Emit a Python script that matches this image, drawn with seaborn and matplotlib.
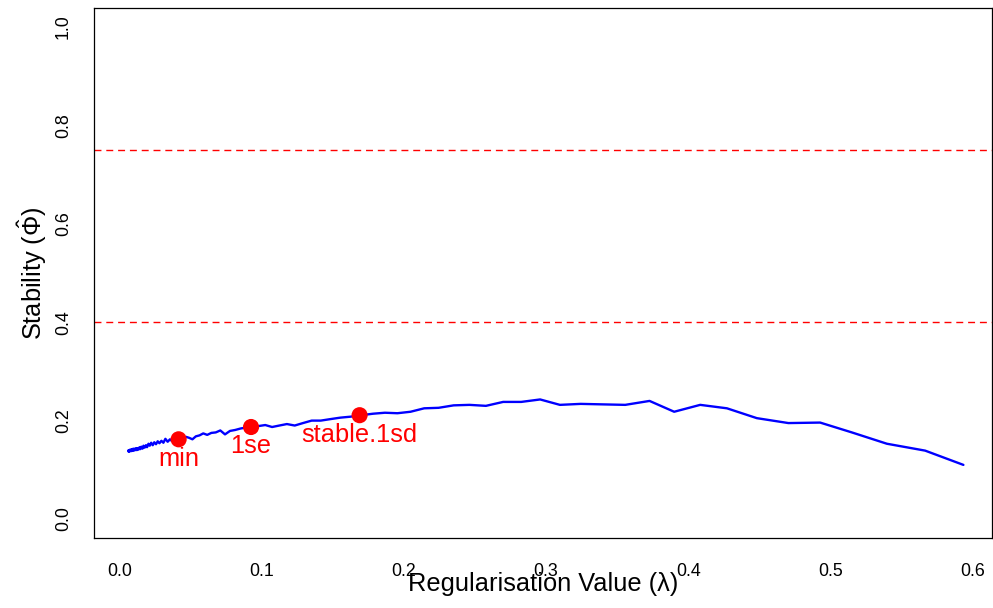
import matplotlib
matplotlib.use("Agg")
import matplotlib.pyplot as plt
import seaborn as sns
import pandas as pd

# ---- data ----
lambdas = [0.5933, 0.5664, 0.5395, 0.5149, 0.4926, 0.4703, 0.4481, 0.4271, 0.4083, 0.3900,
           0.3727, 0.3556, 0.3396, 0.3243, 0.3097, 0.2958, 0.2825, 0.2698, 0.2577, 0.2461,
           0.2350, 0.2244, 0.2143, 0.2047, 0.1955, 0.1867, 0.1783, 0.1702, 0.1626, 0.1553,
           0.1483, 0.1416, 0.1352, 0.1291, 0.1233, 0.1178, 0.1125, 0.1074, 0.1026, 0.0980,
           0.0936, 0.0894, 0.0853, 0.0815, 0.0778, 0.0743, 0.0710, 0.0678, 0.0647, 0.0618,
           0.0590, 0.0564, 0.0538, 0.0514, 0.0491, 0.0469, 0.0448, 0.0428, 0.0408, 0.0390,
           0.0372, 0.0356, 0.0340, 0.0324, 0.0310, 0.0296, 0.0282, 0.0270, 0.0258, 0.0246,
           0.0235, 0.0224, 0.0214, 0.0205, 0.0195, 0.0187, 0.0178, 0.0170, 0.0163, 0.0155,
           0.0148, 0.0142, 0.0135, 0.0129, 0.0123, 0.0118, 0.0113, 0.0108, 0.0103, 0.0098,
           0.0094, 0.0090, 0.0086, 0.0082, 0.0078, 0.0075, 0.0071, 0.0068, 0.0065, 0.0062]
stability = [0.110, 0.139, 0.153, 0.176, 0.196, 0.195, 0.205, 0.225, 0.232, 0.218,
             0.240, 0.232, 0.233, 0.234, 0.232, 0.243, 0.238, 0.238, 0.230, 0.232,
             0.231, 0.226, 0.225, 0.218, 0.215, 0.216, 0.214, 0.211, 0.208, 0.206,
             0.203, 0.200, 0.200, 0.195, 0.190, 0.193, 0.190, 0.187, 0.191, 0.189,
             0.187, 0.186, 0.184, 0.181, 0.179, 0.172, 0.180, 0.176, 0.175, 0.171,
             0.174, 0.170, 0.168, 0.162, 0.165, 0.167, 0.162, 0.162, 0.160, 0.166,
             0.158, 0.162, 0.157, 0.163, 0.155, 0.159, 0.154, 0.158, 0.152, 0.156,
             0.150, 0.155, 0.149, 0.153, 0.146, 0.150, 0.145, 0.149, 0.143, 0.147,
             0.142, 0.146, 0.141, 0.144, 0.140, 0.144, 0.140, 0.143, 0.139, 0.143,
             0.139, 0.142, 0.138, 0.141, 0.138, 0.141, 0.137, 0.140, 0.137, 0.139]

sel_names = ["min", "1se", "stable.1sd"]
sel_lambda = [0.0417, 0.0926, 0.1689]
sel_stability = [0.162, 0.187, 0.211]

thresholds = [0.4, 0.75]

x_ticks = [0.0, 0.1, 0.2, 0.3, 0.4, 0.5, 0.6]
y_ticks = [0.0, 0.2, 0.4, 0.6, 0.8, 1.0]

# ---- style ----
sns.set_style("white")
plt.rcParams["font.family"] = ["Liberation Sans", "DejaVu Sans"]
plt.rcParams["mathtext.fontset"] = "custom"
plt.rcParams["mathtext.rm"] = "Liberation Sans"
plt.rcParams["mathtext.it"] = "Liberation Sans:italic"
plt.rcParams["text.color"] = "black"
plt.rcParams["axes.labelcolor"] = "black"

fig = plt.figure(figsize=(9.93, 6.08), dpi=100)
W, H = 993, 608
left, right, top, bottom = 94.3, 992.0, 8.0, 538.3
ax = fig.add_axes([left / W, 1 - bottom / H, (right - left) / W, (bottom - top) / H])

df = pd.DataFrame({"lambda": lambdas, "stability": stability})
sel = pd.DataFrame({"lambda": sel_lambda, "stability": sel_stability, "name": sel_names})

for t in thresholds:
    ax.axhline(t, color="#ff0000", lw=1.0, dashes=(5, 3.5), zorder=1)

sns.lineplot(data=df, x="lambda", y="stability", color="#0000ff", lw=1.7,
             estimator=None, sort=True, ax=ax, zorder=2)
sns.scatterplot(data=sel, x="lambda", y="stability", color="#ff0000", s=135,
                edgecolor="none", linewidth=0, ax=ax, zorder=3)

for nm, lx, ly in zip(sel_names, sel_lambda, sel_stability):
    ax.annotate(nm, (lx, ly), xytext=(0, -19), textcoords="offset points",
                ha="center", va="baseline", color="#ff0000", fontsize=18.3)

ax.set_xlim(-0.01757, 0.6134)
ax.set_ylim(-0.0392, 1.0386)
ax.set_xticks(x_ticks)
ax.set_yticks(y_ticks)
ax.set_xticklabels([f"{v:.1f}" for v in x_ticks])
ax.set_yticklabels([f"{v:.1f}" for v in y_ticks])
ax.tick_params(axis="both", direction="out", length=8, width=0.8, color="#333333",
               labelsize=12.8, labelcolor="#000000")
ax.tick_params(axis="x", pad=10)
ax.tick_params(axis="y", pad=8)
for lab in ax.get_yticklabels():
    lab.set_rotation(90)
    lab.set_va("center")
    lab.set_ha("right")

for sp in ax.spines.values():
    sp.set_visible(True)
    sp.set_color("#000000")
    sp.set_linewidth(0.9)

ax.set_xlabel("Regularisation Value (λ)", fontsize=18.3, color="black")
ax.set_ylabel(r"Stability ($\hat{\Phi}$)", fontsize=18.3, color="black")
ax.xaxis.set_label_coords(0.5, -0.064)
ax.yaxis.set_label_coords(-0.051, 0.5)
ax.grid(False)

fig.savefig("out.png", dpi=100)
